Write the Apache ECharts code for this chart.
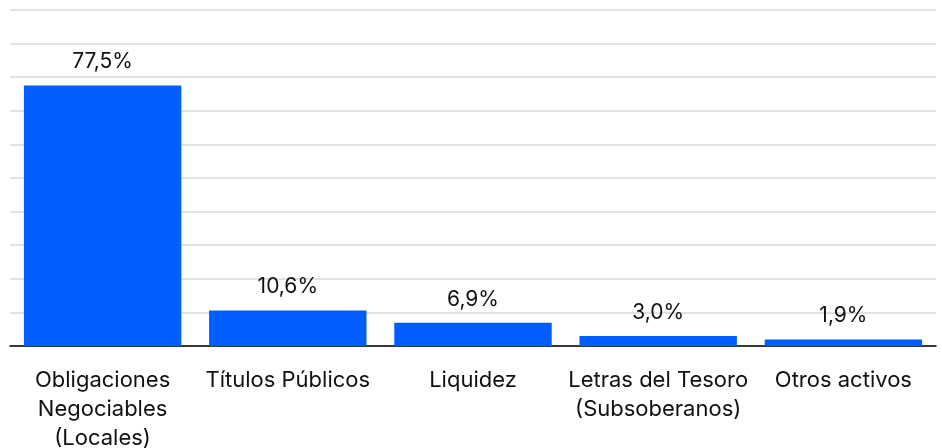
<!DOCTYPE html>
<html>
<head>
<meta charset="utf-8">
<script src="https://cdn.jsdelivr.net/npm/echarts@6/dist/echarts.min.js"></script>
<style>
html,body{margin:0;padding:0;background:#fff;}
#chart{width:942px;height:448px;}
</style>
</head>
<body>
<div id="chart"></div>
<script>
const categories = ['Obligaciones\nNegociables\n(Locales)', 'Títulos Públicos', 'Liquidez', 'Letras del Tesoro\n(Subsoberanos)', 'Otros activos'];
const values = [77.5, 10.6, 6.9, 3.0, 1.9];

const chart = echarts.init(document.getElementById('chart'), null, {renderer: 'canvas'});
chart.setOption({
  animation: false,
  grid: {left: 10, right: 6, top: 10, bottom: 102, containLabel: false, outerBoundsMode: 'none'},
  xAxis: {
    type: 'category',
    data: categories,
    axisLine: {show: true, lineStyle: {color: '#000', width: 1.5}},
    axisTick: {show: false},
    axisLabel: {
      interval: 0,
      margin: 20,
      fontFamily: 'Inter',
      fontSize: 22,
      lineHeight: 29,
      color: '#111'
    }
  },
  yAxis: {
    type: 'value',
    min: 0,
    max: 100,
    interval: 10,
    axisLabel: {show: false},
    axisLine: {show: false},
    axisTick: {show: false},
    splitLine: {lineStyle: {color: '#d9d9d9', width: 1.5}}
  },
  series: [{
    type: 'bar',
    data: values,
    barWidth: '85%',
    itemStyle: {color: '#005EFF'},
    label: {
      show: true,
      position: 'top',
      distance: 13,
      fontFamily: 'Inter',
      fontSize: 21,
      color: '#111',
      formatter: p => p.value.toFixed(1).replace('.', ',') + '%'
    }
  }]
});
</script>
</body>
</html>
